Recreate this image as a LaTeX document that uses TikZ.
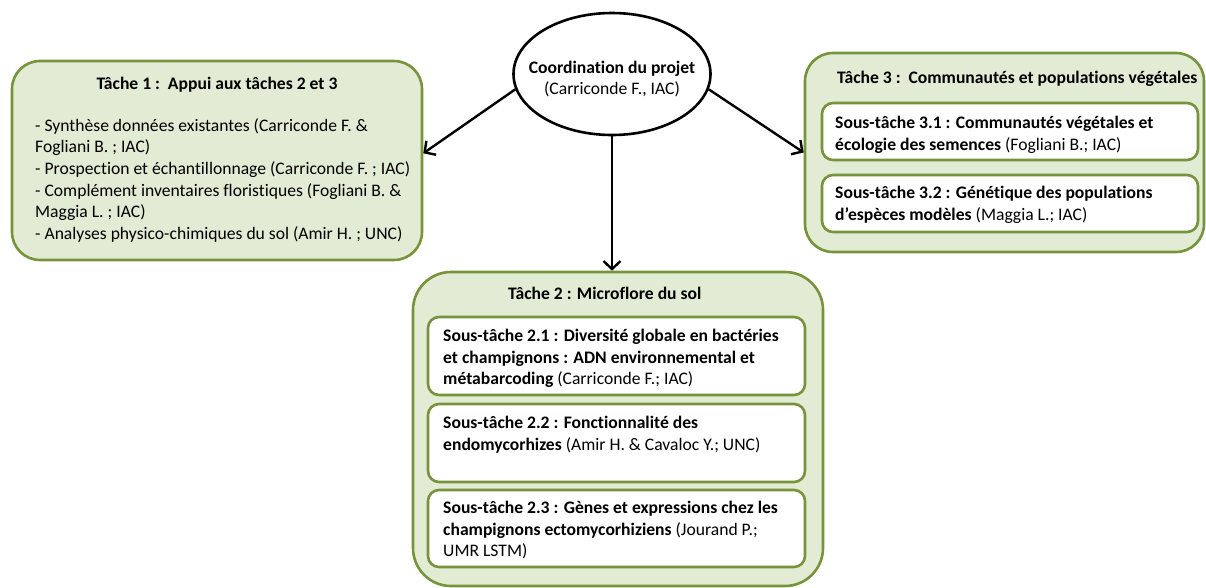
\documentclass[tikz,border=0pt]{standalone}
\usepackage{fontspec}
\setmainfont{Carlito}[Ligatures=NoCommon]
\usetikzlibrary{arrows.meta,shapes.geometric}
\definecolor{boxfill}{HTML}{E2EBD3}
\definecolor{boxline}{HTML}{77933C}
\begin{document}
\begin{tikzpicture}[x=1pt,y=-1pt,
  bigbox/.style={draw=boxline, line width=2.6pt, fill=boxfill, rounded corners=28pt, inner sep=0pt},
  subbox/.style={draw=boxline, line width=2.6pt, fill=white, rounded corners=11pt, inner sep=0pt},
  txt/.style={inner sep=0pt, align=left, anchor=north west, font=\fontsize{17.6}{21.7}\selectfont},
  arr/.style={line width=2.4pt, -{Straight Barb[length=8pt,width=17pt]}}]
\useasboundingbox (0,0) rectangle (1206,587);
% boxes
\node[bigbox, minimum width=410pt, minimum height=199pt] (t1) at (217,160.5) {};
\node[bigbox, minimum width=399pt, minimum height=199pt] (t3) at (1004.5,152.5) {};
\node[bigbox, rounded corners=38pt, minimum width=410pt, minimum height=314pt] (t2) at (618,429) {};
\node[subbox, minimum width=376pt, minimum height=57pt] (s31) at (1010,131.5) {};
\node[subbox, minimum width=376pt, minimum height=57pt] (s32) at (1010,203.5) {};
\node[subbox, minimum width=377pt, minimum height=78pt] (s21) at (616.5,356) {};
\node[subbox, minimum width=377pt, minimum height=78pt] (s22) at (616.5,443) {};
\node[subbox, minimum width=377pt, minimum height=77pt] (s23) at (616.5,528.5) {};
% ellipse
\node[draw, ellipse, line width=2.6pt, fill=white, minimum width=197pt, minimum height=122pt, inner sep=0pt] (coord) at (612,74) {};
\node[txt, anchor=center, align=center] (ctext) at (612,79)
  {\textbf{Coordination du projet}\\(Carriconde F., IAC)};
% arrows
\draw[arr] (coord.189) -- (t1.2);
\draw[arr] (coord.351) -- (t3.west);
\draw[arr] (coord.south) -- (coord.south |- t2.north);
% texts
\node[txt, anchor=north] (h1) at (217,77) {\textbf{Tâche 1 :\ \ Appui aux tâches 2 et 3}};
\node[txt] (b1) at (35,118) {- Synthèse données existantes (Carriconde F. \&\\Fogliani B. ; IAC)\\- Prospection et échantillonnage (Carriconde F. ; IAC)\\- Complément inventaires floristiques (Fogliani B. \&\\Maggia L. ; IAC)\\- Analyses physico-chimiques du sol (Amir H. ; UNC)};
\node[txt] (h3) at (837,71) {\textbf{Tâche 3 :\ \ Communautés et populations végétales}};
\node[txt] (x31) at (835,116) {\textbf{Sous-tâche 3.1 : Communautés végétales et}\\\textbf{écologie des semences} (Fogliani B.; IAC)};
\node[txt] (x32) at (835,186) {\textbf{Sous-tâche 3.2 : Génétique des populations}\\\textbf{d’espèces modèles} (Maggia L.; IAC)};
\node[txt] (h2) at (508,287) {\textbf{Tâche 2 : Microflore du sol}};
\node[txt] (x21) at (443,329) {\textbf{Sous-tâche 2.1 : Diversité globale en bactéries}\\\textbf{et champignons : ADN environnemental et}\\\textbf{métabarcoding} (Carriconde F.; IAC)};
\node[txt] (x22) at (443,416) {\textbf{Sous-tâche 2.2 : Fonctionnalité des}\\\textbf{endomycorhizes} (Amir H. \& Cavaloc Y.; UNC)};
\node[txt] (x23) at (443,501) {\textbf{Sous-tâche 2.3 : Gènes et expressions chez les}\\\textbf{champignons ectomycorhiziens} (Jourand P.;\\UMR LSTM)};
\end{tikzpicture}
\end{document}
